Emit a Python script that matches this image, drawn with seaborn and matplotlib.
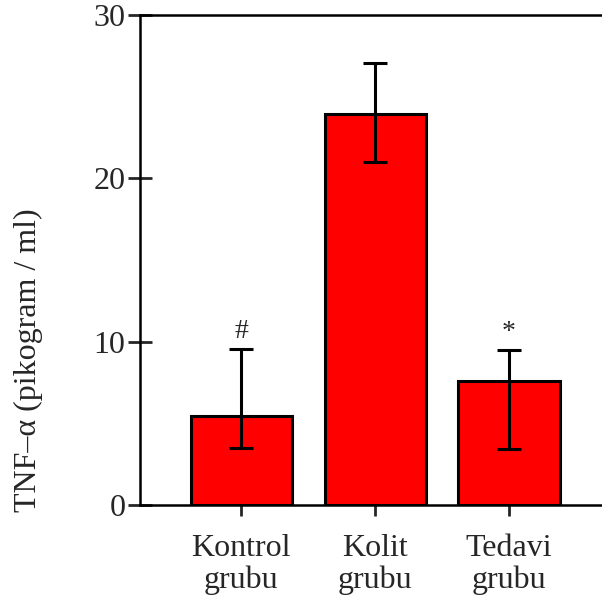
import matplotlib
matplotlib.use("Agg")
import matplotlib.pyplot as plt
import seaborn as sns
import numpy as np
import pandas as pd

# values
groups = ["Kontrol\ngrubu", "Kolit\ngrubu", "Tedavi\ngrubu"]
means = [5.45, 23.95, 7.6]
err_low = [3.5, 21.0, 3.45]
err_high = [9.55, 27.05, 9.5]
marks = ["#", "", "*"]

sns.set_style("ticks")
plt.rcParams['font.family'] = ['Liberation Serif', 'DejaVu Serif']

fig = plt.figure(figsize=(6.02, 6.01), dpi=100)
ax = fig.add_axes([140 / 602, 1 - 505 / 601, 1 - 140 / 602, (505 - 15) / 601])

df = pd.DataFrame({"group": groups, "value": means})
sns.barplot(data=df, x="group", y="value", color="#ff0000", errorbar=None,
            width=0.754, edgecolor="black", linewidth=2.2, saturation=1, ax=ax)

x = np.arange(len(groups))
m = np.array(means)
yerr = [m - np.array(err_low), np.array(err_high) - m]
ax.errorbar(x, m, yerr=yerr, fmt="none", ecolor="black", elinewidth=2.2,
            capsize=8.5, capthick=2.2)

for xi, hi, s in zip(x, err_high, marks):
    if s:
        ax.text(xi, hi + 0.3, s, ha="center", va="bottom", fontsize=20)

ax.set_xlim(-0.754, 2.694)
ax.set_ylim(0, 30)
ax.set_yticks([0, 10, 20, 30])
ax.set_xlabel("")
ax.set_ylabel("TNF–α (pikogram / ml)", fontsize=23)
ax.yaxis.set_label_coords(-0.21, 0.296)

for side in ["left", "bottom", "top"]:
    ax.spines[side].set_linewidth(1.8)
    ax.spines[side].set_color("black")
ax.spines["right"].set_visible(False)

ax.tick_params(axis="y", direction="inout", length=17, width=2, labelsize=23, pad=2)
ax.tick_params(axis="x", direction="out", length=8, width=2, labelsize=23, pad=13)
for lab in ax.get_xticklabels():
    lab.set_linespacing(1.12)

fig.savefig("out.png", dpi=100)
